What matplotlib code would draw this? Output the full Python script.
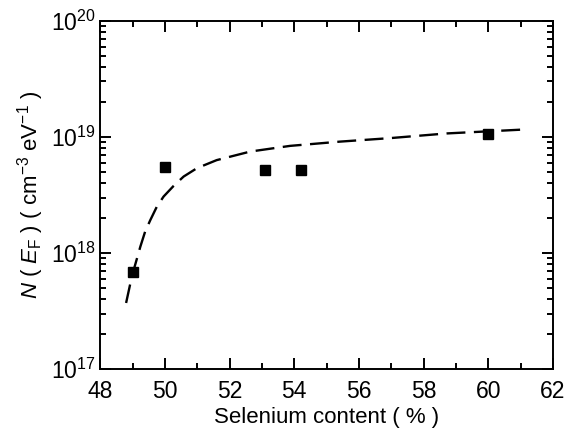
import matplotlib.pyplot as plt
from matplotlib.ticker import LogLocator, MultipleLocator

plt.rcParams['font.family'] = ['Liberation Sans', 'DejaVu Sans']
plt.rcParams['mathtext.fontset'] = 'custom'
plt.rcParams['mathtext.rm'] = 'Liberation Sans'
plt.rcParams['mathtext.it'] = 'Liberation Sans:italic'

# measured points
se = [49.0, 50.0, 53.1, 54.2, 60.0]
nef = [6.8e17, 5.5e18, 5.2e18, 5.2e18, 1.05e19]

# dashed fit curve
fit_x = [48.80, 48.98, 49.24, 49.39, 49.55, 49.75, 49.96, 50.27, 50.58, 50.99,
         51.6, 52.64, 53.87, 55.42, 56.96, 58.71, 61.19]
fit_y = [3.7e17, 6.3e17, 1.13e18, 1.53e18, 1.92e18, 2.5e18, 3.06e18, 3.78e18, 4.55e18, 5.37e18,
         6.3e18, 7.47e18, 8.36e18, 9.1e18, 9.75e18, 1.07e19, 1.16e19]

fig = plt.figure(figsize=(5.76, 4.34), dpi=100)
ax = fig.add_axes([0.174, 0.150, 0.786, 0.802])

ax.plot(fit_x, fit_y, color='black', lw=1.7, dashes=(8, 3.6))
ax.plot(se, nef, 's', color='black', ms=7.5)

ax.set_yscale('log')
ax.set_xlim(48, 62)
ax.set_ylim(1e17, 1e20)
ax.xaxis.set_major_locator(MultipleLocator(2))
ax.xaxis.set_minor_locator(MultipleLocator(1))
ax.yaxis.set_major_locator(LogLocator(base=10))
ax.yaxis.set_minor_locator(LogLocator(base=10, subs=range(2, 10)))

ax.tick_params(which='both', direction='in', top=True, right=True, width=1.4)
ax.tick_params(which='major', length=8, labelsize=16.5)
ax.tick_params(axis='x', pad=8)
ax.tick_params(axis='y', pad=3)
ax.tick_params(which='minor', length=4.5)
for s in ax.spines.values():
    s.set_linewidth(1.4)

ax.set_xlabel('Selenium content ( % )', fontsize=16, labelpad=3)
ax.set_ylabel(r'$N$ ( $E_{\rm F}$ ) ( cm$^{-3}$ eV$^{-1}$ )', fontsize=16, labelpad=4)

fig.savefig('out.png', dpi=100)
